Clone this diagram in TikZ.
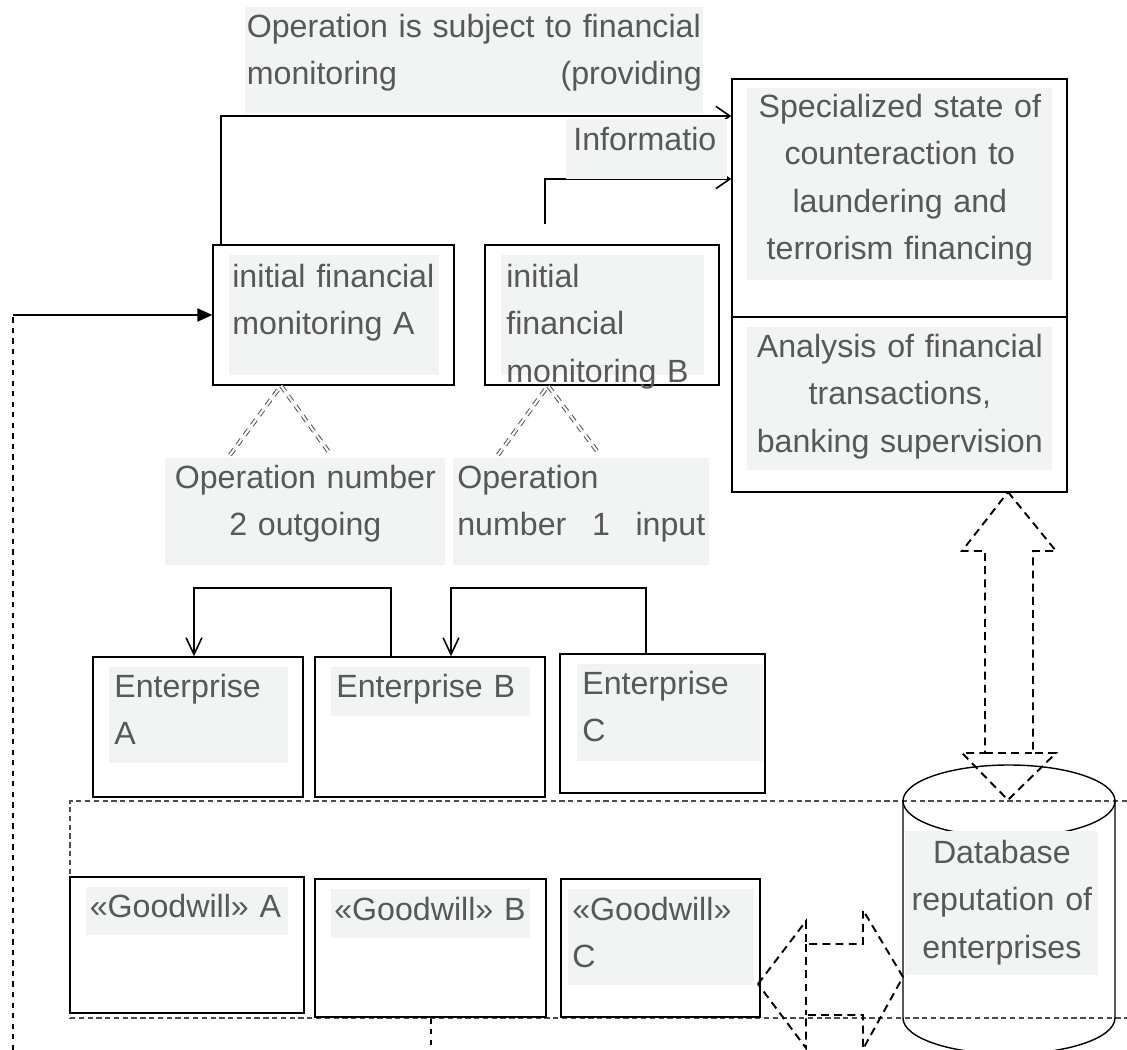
\documentclass[tikz,border=0pt]{standalone}
\usepackage{fontspec}
\setmainfont{Liberation Sans}
\usetikzlibrary{positioning,fit,calc,arrows.meta}

\definecolor{shade}{RGB}{242,243,243}
\definecolor{ink}{RGB}{88,88,88}
\newcommand{\lab}{\fontsize{18.3}{27}\selectfont}
\newcommand{\spread}{\hspace{0pt plus 1filll}}

\tikzset{
  box/.style={draw, line width=0.8pt, inner sep=0pt},
  txt/.style={fill=shade, text=ink, font=\lab, anchor=north west,
    inner ysep=0pt, inner xsep=0.1cm, align=left},
  conn/.style={line width=0.9pt},
  tipH/.style={-{Straight Barb[length=8pt,width=11pt]}},
  tipV/.style={-{Straight Barb[length=9.5pt,width=9pt]}},
  twin/.style={draw=black!65, double, double distance=1.2pt, line width=0.6pt,
    dash pattern=on 4pt off 3pt},
  grp/.style={draw=black!70, line width=0.6pt, dash pattern=on 3pt off 2pt, inner sep=0pt},
  block/.style={line width=1.1pt, dash pattern=on 4.5pt off 3pt, line join=miter},
  loose/.style={line width=0.7pt, dash pattern=on 3pt off 3pt}
}

\begin{document}
\begin{tikzpicture}[x=0.02cm, y=-0.02cm]
  \useasboundingbox (0,0) rectangle (1127,1050);

  % outlines
  \node[grp, fit={(70,801) (1140,1018)}] (group) {};
  \node[box, fit={(213,245) (454,385)}] (fmA) {};
  \node[box, fit={(485,245) (719,385)}] (fmB) {};
  \node[box, fit={(732,79) (1067,317)}] (spec) {};
  \node[box, fit={(732,317) (1067,492)}] (anal) {};
  \node[box, fit={(93,657) (303,797)}] (entA) {};
  \node[box, fit={(315,657) (545,797)}] (entB) {};
  \node[box, fit={(560,654) (765,793)}] (entC) {};
  \node[box, fit={(70,877) (304,1013)}] (gwA) {};
  \node[box, fit={(315,879) (546,1017)}] (gwB) {};
  \node[box, fit={(561,879) (760,1017)}] (gwC) {};

  % database cylinder
  \draw[line width=0.8pt] (903,801) -- (903,1018)
    arc[start angle=180, end angle=360, x radius=2.12cm, y radius=0.72cm] -- (1115,801);
  \draw[line width=0.8pt] (1009,801) ellipse [x radius=2.12cm, y radius=0.72cm];

  % reporting lines
  \coordinate (upA) at (221,116);
  \coordinate (upB) at (545,179);
  \coordinate (fromB) at (545,224);
  \draw[conn, tipH] (fmA.north -| upA) -- (upA) -- (upA -| spec.west);
  \draw[conn, tipH] (fromB) -- (upB) -- (upB -| spec.west);

  % feedback into A
  \coordinate (feed) at (13,1050);
  \draw[loose] (feed) -- (feed |- fmA.west);
  \draw[conn, -{Triangle[length=8.5pt,width=7.5pt]}] (feed |- fmA.west) -- (fmA.west);

  % payments between enterprises
  \coordinate (hopA) at (194,588);
  \coordinate (hopB) at (451,588);
  \draw[conn, tipV] (entB.north -| 391,0) |- (hopA) -- (hopA |- entA.north);
  \draw[conn, tipV] (entC.north -| 646,0) |- (hopB) -- (hopB |- entB.north);

  % operations
  \coordinate (op2l) at (230,455);
  \coordinate (op2r) at (331,455);
  \coordinate (op1l) at (498,455);
  \coordinate (op1r) at (600,455);
  \draw[twin] (op2l) -- (fmA.south -| 281,0) -- (op2r);
  \draw[twin] (op1l) -- (fmB.south -| 548,0) -- (op1r);

  % exchange with the database
  \draw[block] (1008,492) -- (1056,551) -- (1033,551) -- (1033,753) -- (1056,753)
    -- (1008,800) -- (962,753) -- (985,753) -- (985,551) -- (962,551) -- cycle;
  \draw[block] (985,753) -- (1033,753);
  \draw[block] (758,984) -- (806,921) -- (806,944) -- (863,944) -- (863,910)
    -- (903,977) -- (863,1049) -- (863,1015) -- (806,1015) -- (806,1048) -- cycle;
  \draw[block] (806,944) -- (806,1015);

  \coordinate (drop) at (431,1050);
  \draw[loose] (group.south -| drop) -- (drop);

  % texts
  \node[txt, text width=9.1cm, inner xsep=0.03cm, text height=0.6cm, text depth=1.52cm]
    (noteT) at (245,7) {\mbox{Operation is subject to financial}\\monitoring\spread(providing};
  \node[txt, text width=2.94cm, inner xsep=0.14cm, text height=0.62cm, text depth=0.58cm]
    (infoT) at (566,119) {Informatio};
  \node[txt, align=center, text width=5.9cm, text height=0.58cm, text depth=3.26cm]
    (specT) at (747,88) {Specialized state of\\counteraction to\\laundering and\\terrorism financing};
  \node[txt, align=center, text width=5.9cm, text height=0.6cm, text depth=2.26cm]
    (analT) at (747,327) {Analysis of financial\\transactions,\\banking supervision};
  \node[txt, text width=4.08cm, inner xsep=0.06cm, text height=0.64cm, text depth=1.76cm]
    (fmAT) at (229,255) {initial financial\\monitoring A};
  \node[txt, text width=3.86cm, text height=0.64cm, text depth=1.76cm]
    (fmBT) at (501,255) {initial\\financial\\monitoring B};
  \node[txt, align=center, text width=5.4cm, text height=0.6cm, text depth=1.54cm]
    (op2T) at (165,458) {Operation number\\2 outgoing};
  \node[txt, text width=4.96cm, inner xsep=0.08cm, text height=0.6cm, text depth=1.54cm]
    (op1T) at (453,458) {Operation\\number\spread 1\spread input};
  \node[txt, text width=3.38cm, text height=0.6cm, text depth=1.32cm]
    (entAT) at (109,667) {Enterprise\\A};
  \node[txt, text width=3.78cm, text height=0.6cm, text depth=0.38cm]
    (entBT) at (331,667) {Enterprise B};
  \node[txt, text width=3.52cm, text height=0.6cm, text depth=1.34cm]
    (entCT) at (577,664) {Enterprise\\C};
  \node[txt, text width=3.9cm, inner xsep=0.07cm, text height=0.6cm, text depth=0.36cm]
    (gwAT) at (86,887) {«Goodwill» A};
  \node[txt, text width=3.86cm, inner xsep=0.06cm, text height=0.62cm, text depth=0.36cm]
    (gwBT) at (331,889) {«Goodwill» B};
  \node[txt, text width=3.56cm, inner xsep=0.08cm, text height=0.62cm, text depth=1.3cm]
    (gwCT) at (568,889) {«Goodwill»\\C};
  \node[txt, align=center, text width=3.66cm, text height=0.64cm, text depth=2.24cm]
    (dbT) at (905,831) {Database\\reputation of\\enterprises};
\end{tikzpicture}
\end{document}
